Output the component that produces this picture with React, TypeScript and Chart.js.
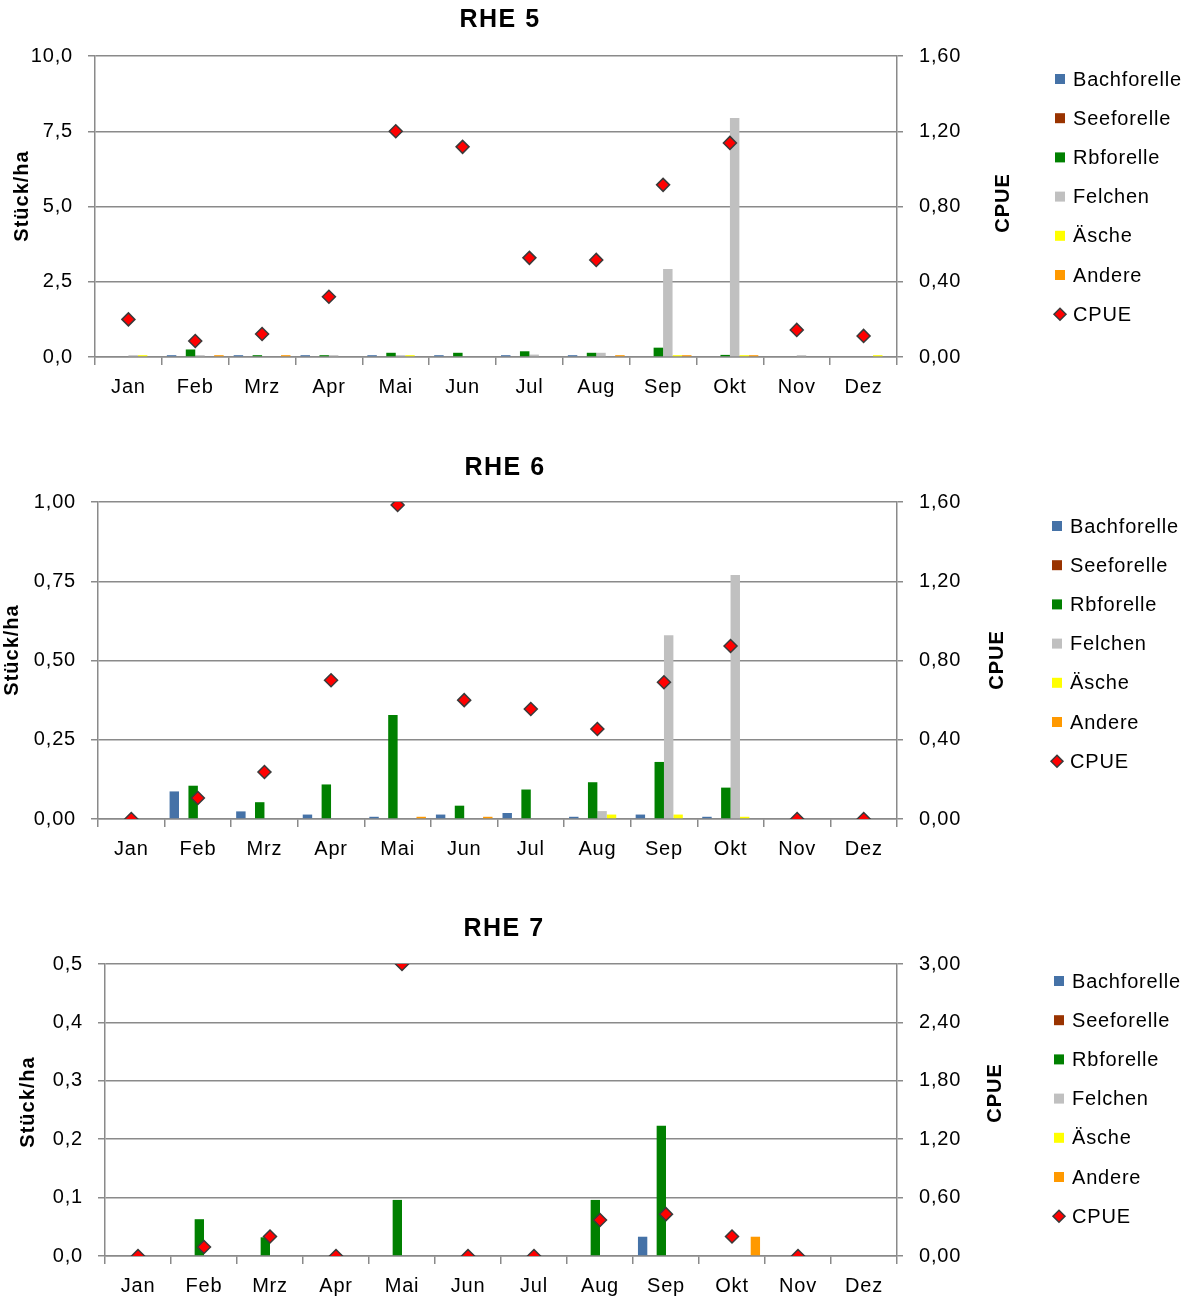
import React, { useEffect, useRef } from 'react';
import { Chart, registerables } from 'chart.js';

Chart.register(...registerables);

const FONT = "'Liberation Sans', Arial, sans-serif";

const months = ['Jan', 'Feb', 'Mrz', 'Apr', 'Mai', 'Jun', 'Jul', 'Aug', 'Sep', 'Okt', 'Nov', 'Dez'];
const speciesNames = ['Bachforelle', 'Seeforelle', 'Rbforelle', 'Felchen', 'Äsche', 'Andere'];
const speciesColors = ['#4572A7', '#993300', '#008000', '#C0C0C0', '#FFFF00', '#FF9900'];
const cpueLabel = 'CPUE';

// RHE 5 (Stück/ha)
const rhe5Bach = [0, 0.06, 0.06, 0.06, 0.06, 0.06, 0.06, 0.06, 0, 0, 0, 0];
const rhe5See = [0, 0, 0, 0, 0, 0, 0, 0, 0, 0, 0, 0];
const rhe5Rb = [0, 0.25, 0.06, 0.06, 0.14, 0.14, 0.19, 0.14, 0.31, 0.07, 0, 0];
const rhe5Felchen = [0.06, 0.06, 0, 0.06, 0.06, 0, 0.08, 0.14, 2.92, 7.94, 0.06, 0];
const rhe5Aesche = [0.06, 0, 0, 0, 0.06, 0, 0, 0, 0.06, 0.06, 0, 0.06];
const rhe5Andere = [0, 0.06, 0.06, 0, 0, 0, 0, 0.06, 0.06, 0.06, 0, 0];
const rhe5Cpue = [0.2, 0.085, 0.122, 0.32, 1.2, 1.117, 0.527, 0.516, 0.915, 1.138, 0.144, 0.112];

// RHE 6 (Stück/ha)
const rhe6Bach = [0, 0.087, 0.024, 0.014, 0.007, 0.014, 0.019, 0.007, 0.014, 0.007, 0, 0];
const rhe6See = [0, 0, 0, 0, 0, 0, 0, 0, 0, 0, 0, 0];
const rhe6Rb = [0, 0.105, 0.053, 0.109, 0.328, 0.042, 0.093, 0.116, 0.18, 0.099, 0, 0];
const rhe6Felchen = [0, 0, 0, 0, 0, 0, 0, 0.025, 0.58, 0.77, 0, 0];
const rhe6Aesche = [0, 0, 0, 0, 0, 0, 0, 0.014, 0.014, 0.007, 0, 0];
const rhe6Andere = [0, 0, 0, 0, 0.007, 0.007, 0, 0, 0, 0, 0, 0];
const rhe6Cpue = [0, 0.106, 0.237, 0.7, 1.585, 0.6, 0.555, 0.454, 0.69, 0.873, 0, 0];

// RHE 7 (Stück/ha)
const rhe7Bach = [0, 0, 0, 0, 0, 0, 0, 0, 0.033, 0, 0, 0];
const rhe7See = [0, 0, 0, 0, 0, 0, 0, 0, 0, 0, 0, 0];
const rhe7Rb = [0, 0.063, 0.032, 0, 0.096, 0, 0, 0.096, 0.223, 0, 0, 0];
const rhe7Felchen = [0, 0, 0, 0, 0, 0, 0, 0, 0, 0, 0, 0];
const rhe7Aesche = [0, 0, 0, 0, 0, 0, 0, 0, 0, 0, 0, 0];
const rhe7Andere = [0, 0, 0, 0, 0, 0, 0, 0, 0, 0.033, 0, 0];
const rhe7Cpue = [0, 0.093, 0.2, 0, 3.0, 0, 0, 0.37, 0.43, 0.2, 0, null];

const GRID = '#8a8a8a';

type PanelCfg = {
  title: string;
  series: number[][];
  cpue: (number | null)[];
  leftMax: number; leftStep: number; leftDec: number;
  rightMax: number; rightStep: number; rightDec: number;
  top: number; h: number; plotTop: number; plotBottom: number; plotLeft: number;
  titleX: number; titleY: number;
  leftTitleX: number; leftTitleY: number;
  rightTitleX: number; rightTitleY: number;
  legBoxX: number; legTextX: number; legY: number;
};

const panels: PanelCfg[] = [
  {
    title: 'RHE 5',
    series: [rhe5Bach, rhe5See, rhe5Rb, rhe5Felchen, rhe5Aesche, rhe5Andere],
    cpue: rhe5Cpue,
    leftMax: 10, leftStep: 2.5, leftDec: 1,
    rightMax: 1.6, rightStep: 0.4, rightDec: 2,
    top: 0, h: 410, plotTop: 56, plotBottom: 357, plotLeft: 95,
    titleX: 500, titleY: 20,
    leftTitleX: 22, leftTitleY: 196,
    rightTitleX: 1003, rightTitleY: 203,
    legBoxX: 1055, legTextX: 1073, legY: 79,
  },
  {
    title: 'RHE 6',
    series: [rhe6Bach, rhe6See, rhe6Rb, rhe6Felchen, rhe6Aesche, rhe6Andere],
    cpue: rhe6Cpue,
    leftMax: 1, leftStep: 0.25, leftDec: 2,
    rightMax: 1.6, rightStep: 0.4, rightDec: 2,
    top: 420, h: 460, plotTop: 502, plotBottom: 819, plotLeft: 98,
    titleX: 505, titleY: 468,
    leftTitleX: 12, leftTitleY: 650,
    rightTitleX: 997, rightTitleY: 660,
    legBoxX: 1052, legTextX: 1070, legY: 526,
  },
  {
    title: 'RHE 7',
    series: [rhe7Bach, rhe7See, rhe7Rb, rhe7Felchen, rhe7Aesche, rhe7Andere],
    cpue: rhe7Cpue,
    leftMax: 0.5, leftStep: 0.1, leftDec: 1,
    rightMax: 3, rightStep: 0.6, rightDec: 2,
    top: 890, h: 412, plotTop: 964, plotBottom: 1256, plotLeft: 105,
    titleX: 504, titleY: 929,
    leftTitleX: 28, leftTitleY: 1102,
    rightTitleX: 995, rightTitleY: 1093,
    legBoxX: 1054, legTextX: 1072, legY: 981,
  },
];

const PLOT_RIGHT = 897;
const RIGHT_AXIS_W = 80;
const X_AXIS_H = 46;
const LEG_STEP = 39.2;

function fmt(v: number, dec: number) {
  return Number(v).toFixed(dec).replace('.', ',');
}

function makeDecor(cfg: PanelCfg) {
  return {
    id: 'decor',
    beforeDraw(chart: any) {
      chart.ctx.letterSpacing = '0.8px';
    },
    afterDraw(chart: any) {
      const ctx = chart.ctx as CanvasRenderingContext2D;
      const dy = cfg.top;
      ctx.save();
      ctx.fillStyle = '#000';
      ctx.textBaseline = 'middle';
      ctx.textAlign = 'center';
      (ctx as any).letterSpacing = '1.5px';
      ctx.font = `bold 25px ${FONT}`;
      ctx.fillText(cfg.title, cfg.titleX, cfg.titleY - dy);

      (ctx as any).letterSpacing = '1px';
      ctx.font = `bold 20px ${FONT}`;
      ctx.save();
      ctx.translate(cfg.leftTitleX, cfg.leftTitleY - dy);
      ctx.rotate(-Math.PI / 2);
      ctx.fillText('Stück/ha', 0, 0);
      ctx.restore();
      ctx.save();
      ctx.translate(cfg.rightTitleX, cfg.rightTitleY - dy);
      ctx.rotate(-Math.PI / 2);
      ctx.fillText('CPUE', 0, 0);
      ctx.restore();

      // legend
      (ctx as any).letterSpacing = '0.8px';
      ctx.font = `20px ${FONT}`;
      ctx.textAlign = 'left';
      const names = [...speciesNames, cpueLabel];
      names.forEach((name, i) => {
        const y = cfg.legY - dy + i * LEG_STEP;
        if (i < speciesNames.length) {
          ctx.fillStyle = speciesColors[i];
          ctx.fillRect(cfg.legBoxX, y - 5, 10, 10);
        } else {
          const cx = cfg.legBoxX + 5;
          ctx.beginPath();
          ctx.moveTo(cx, y - 6);
          ctx.lineTo(cx + 6, y);
          ctx.lineTo(cx, y + 6);
          ctx.lineTo(cx - 6, y);
          ctx.closePath();
          ctx.fillStyle = '#FF0000';
          ctx.fill();
          ctx.lineWidth = 1.5;
          ctx.strokeStyle = '#3a3a3a';
          ctx.stroke();
        }
        ctx.fillStyle = '#000';
        ctx.fillText(name, cfg.legTextX, y + 1);
      });
      ctx.restore();
    },
  };
}

function Panel({ cfg }: { cfg: PanelCfg }) {
  const ref = useRef<HTMLCanvasElement>(null);
  useEffect(() => {
    const canvas = ref.current!;
    const datasets: any[] = speciesNames.map((name, i) => ({
      type: 'bar',
      label: name,
      data: cfg.series[i],
      backgroundColor: speciesColors[i],
      borderWidth: 0,
      categoryPercentage: 0.85,
      barPercentage: 1.0,
      yAxisID: 'y',
      order: 1,
    }));
    datasets.push({
      type: 'line',
      label: cpueLabel,
      data: cfg.cpue,
      yAxisID: 'y1',
      showLine: false,
      pointStyle: 'rectRot',
      pointRadius: 6.5,
      pointBackgroundColor: '#FF0000',
      pointBorderColor: '#3a3a3a',
      pointBorderWidth: 1.5,
      order: 0,
    });
    const chart = new Chart(canvas, {
      type: 'bar',
      data: { labels: months, datasets },
      options: {
        animation: false,
        responsive: false,
        devicePixelRatio: 1,
        layout: {
          padding: {
            left: 0,
            top: cfg.plotTop - cfg.top,
            right: 1194 - PLOT_RIGHT - RIGHT_AXIS_W,
            bottom: cfg.h - (cfg.plotBottom - cfg.top) - X_AXIS_H,
          },
        },
        plugins: {
          legend: { display: false },
          tooltip: { enabled: false },
          title: { display: false },
        },
        scales: {
          x: {
            offset: true,
            grid: {
              offset: true,
              drawOnChartArea: false,
              drawTicks: true,
              tickLength: 8,
              color: GRID,
              lineWidth: 1.5,
            },
            border: { display: true, color: GRID, width: 1.5 },
            ticks: { color: '#000', padding: 10, font: { size: 20, family: FONT }, maxRotation: 0, autoSkip: false },
            afterFit: (s: any) => { s.height = X_AXIS_H; },
          },
          y: {
            position: 'left',
            min: 0,
            max: cfg.leftMax,
            grid: { color: GRID, lineWidth: 1.5, tickLength: 7, drawTicks: true },
            border: { display: true, color: GRID, width: 1.5 },
            ticks: {
              stepSize: cfg.leftStep,
              color: '#000',
              padding: 15,
              font: { size: 20, family: FONT },
              callback: (v: any) => fmt(v, cfg.leftDec),
            },
            afterFit: (s: any) => { s.width = cfg.plotLeft; },
          },
          y1: {
            position: 'right',
            min: 0,
            max: cfg.rightMax,
            grid: { drawOnChartArea: false, color: GRID, lineWidth: 1.5, tickLength: 6, drawTicks: true },
            border: { display: true, color: GRID, width: 1.5 },
            ticks: {
              stepSize: cfg.rightStep,
              color: '#000',
              padding: 16,
              font: { size: 20, family: FONT },
              callback: (v: any) => fmt(v, cfg.rightDec),
            },
            afterFit: (s: any) => { s.width = RIGHT_AXIS_W; },
          },
        },
      } as any,
      plugins: [makeDecor(cfg)],
    });
    return () => chart.destroy();
  }, [cfg]);
  return (
    <canvas
      ref={ref}
      width={1194}
      height={cfg.h}
      style={{ position: 'absolute', left: 0, top: cfg.top, width: 1194, height: cfg.h, display: 'block' }}
    />
  );
}

export default function App() {
  return (
    <div style={{ position: 'absolute', left: 0, top: 0, width: 1194, height: 1302, background: '#fff' }}>
      {panels.map((p) => (
        <Panel key={p.title} cfg={p} />
      ))}
    </div>
  );
}
